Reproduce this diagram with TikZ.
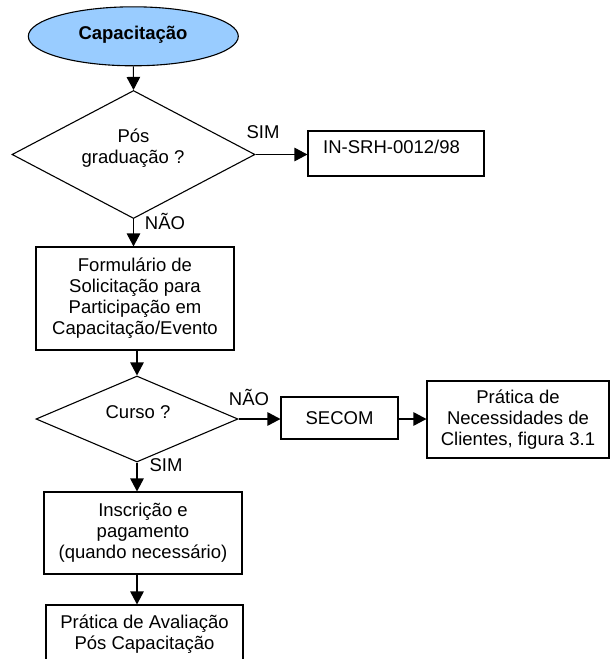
\documentclass[tikz,border=0pt]{standalone}
\usepackage{fontspec}
\setmainfont{Liberation Sans}
\usetikzlibrary{shapes.geometric,arrows.meta}
\definecolor{ellblue}{HTML}{99CCFF}
\begin{document}
\begin{tikzpicture}[x=1pt,y=-1pt,
  every node/.style={font=\fontsize{18.5}{21}\selectfont},
  procbox/.style={draw=black, line width=1.1pt, rectangle, inner sep=0pt, align=center},
  decision/.style={draw=black, line width=1.1pt, diamond, inner sep=0pt},
  flow/.style={line width=1.1pt, -{Triangle[length=13pt,width=13.5pt]}},
  lbl/.style={anchor=base, inner sep=0pt}
]
\clip (0,0) rectangle (610,659);
\fill[white] (0,0) rectangle (610,659);

% shapes
\node[ellipse, draw=black, fill=ellblue, line width=1.1pt, inner sep=0pt,
      minimum width=210, minimum height=59] (start) at (133.3,36.3) {};
\node[lbl] (starttext) at (133,39.3) {\bfseries Capacitação};
\node[decision, minimum width=243, minimum height=128] (d1) at (133.5,154.5) {};
\node[lbl] (t1a) at (133.5,142.5) {Pós};
\node[lbl] (t1b) at (133,163.5) {graduação ?};
\node[procbox, minimum width=176, minimum height=45] (in) at (396,153.5) {};
\node[anchor=base west, inner sep=0pt] (intext) at (323,153.6) {IN-SRH-0012/98};
\node[procbox, minimum width=198, minimum height=103] (form) at (135,298.5)
      {Formulário de\\Solicitação para\\Participação em\\Capacitação/Evento};
\node[decision, minimum width=202, minimum height=86] (d2) at (137,419) {};
\node[lbl] (t2) at (138,418.5) {Curso ?};
\node[procbox, minimum width=117, minimum height=42] (secom) at (339.5,418) {SECOM};
\node[procbox, minimum width=182, minimum height=77] (pn) at (518,419.5)
      {Prática de\\Necessidades de\\Clientes, figura 3.1};
\node[procbox, minimum width=198, minimum height=82] (ins) at (143,533)
      {Inscrição e\\pagamento\\(quando necessário)};
\node[procbox, minimum width=197, minimum height=58] (pa) at (144.5,634)
      {Prática de Avaliação\\Pós Capacitação};

% connector labels
\node[lbl] (sim1) at (263,138.3) {SIM};
\node[lbl] (nao1) at (165,229) {NÃO};
\node[lbl] (nao2) at (249,405.7) {NÃO};
\node[lbl] (sim2) at (166,471.7) {SIM};

% connectors
\draw[flow] (start.south) -- (d1.north);
\draw[flow] (d1.east) -- (d1.east -| in.west);
\draw[flow] (d1.south) -- (d1.south |- form.north);
\draw[flow] (d2.north |- form.south) -- (d2.north);
\draw[flow] (d2.east) -- (d2.east -| secom.west);
\draw[flow] (d2.east -| secom.east) -- (d2.east -| pn.west);
\draw[flow] (d2.south) -- (d2.south |- ins.north);
\draw[flow] (d2.south |- ins.south) -- (d2.south |- pa.north);
\end{tikzpicture}
\end{document}
